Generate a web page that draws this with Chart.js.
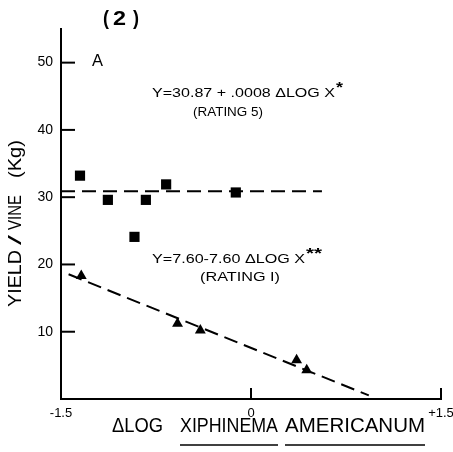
<!DOCTYPE html>
<html><head><meta charset="utf-8">
<script src="https://cdn.jsdelivr.net/npm/chart.js@4/dist/chart.umd.min.js"></script>
<style>html,body{margin:0;padding:0;background:#fff;}canvas{display:block;}</style>
</head><body>
<canvas id="c" width="453" height="452"></canvas>
<script>
// ---- data ----
const squareX = [-1.35, -1.13, -0.92, -0.83, -0.67, -0.12];
const squareY = [33.2, 29.6, 24.1, 29.6, 31.9, 30.7];
const triangleX = [-1.34, -0.58, -0.40, 0.36, 0.44];
const triangleY = [18.3, 11.2, 10.2, 5.8, 4.3];
const rating5Coef = [30.87, 0.0008];   // intercept, slope
const rating1Coef = [7.60, -7.60];
const rating5Range = [-1.5, 0.56];
const rating1Range = [-1.44, 0.93];
const xTicks = [-1.5, 0, 1.5];
const xTickLabels = ['-1.5', '0', '+1.5'];
const yTicks = [10, 20, 30, 40, 50];
const yTickLabels = ['10', '20', '30', '40', '50'];

const FONT = '"Liberation Sans", Arial, sans-serif';
const regLine = (coef, range) => range.map(x => ({x: x, y: coef[0] + coef[1] * x}));

function fitText(ctx, text, x, y, w, size, o) {
  o = o || {};
  ctx.save();
  ctx.font = (o.weight || 'normal') + ' ' + size + 'px ' + FONT;
  const m = ctx.measureText(text).width;
  ctx.translate(x, y);
  if (o.rotate) ctx.rotate(o.rotate);
  ctx.scale(w / m, o.vs || 1);
  ctx.fillStyle = '#000';
  ctx.textAlign = 'left';
  ctx.textBaseline = 'middle';
  ctx.fillText(text, 0, 0);
  ctx.restore();
}

const decor = {
  id: 'decor',
  afterDraw(chart) {
    const ctx = chart.ctx, xs = chart.scales.x, ys = chart.scales.y, a = chart.chartArea;
    ctx.save();
    ctx.strokeStyle = '#000';
    ctx.lineWidth = 2;
    // inward ticks
    yTicks.forEach(v => {
      const py = ys.getPixelForValue(v);
      ctx.beginPath(); ctx.moveTo(a.left, py); ctx.lineTo(a.left + 14, py); ctx.stroke();
    });
    xTicks.slice(1).forEach(v => {
      const px = xs.getPixelForValue(v);
      ctx.beginPath(); ctx.moveTo(px, a.bottom); ctx.lineTo(px, a.bottom - 11); ctx.stroke();
    });
    ctx.restore();
    // texts
    fitText(ctx, '(', 103, 19, 6, 20, {weight: 'bold'});
    fitText(ctx, '2', 113, 19, 13, 20, {weight: 'bold'});
    fitText(ctx, ')', 133, 19, 6, 20, {weight: 'bold'});
    fitText(ctx, 'A', 92, 62, 11, 16);
    fitText(ctx, 'Y=30.87 + .0008 \u0394LOG X', 152, 93, 183, 13);
    fitText(ctx, '*', 336, 88, 7, 14, {weight: 'bold'});
    fitText(ctx, '(RATING 5)', 193, 112, 70, 13);
    fitText(ctx, 'Y=7.60-7.60 \u0394LOG X', 152, 259, 153, 13);
    fitText(ctx, '**', 306, 254, 16, 14, {weight: 'bold'});
    fitText(ctx, '(RATING I)', 200, 277, 80, 13);
    // x title
    fitText(ctx, '\u0394LOG', 112, 426, 51, 21);
    fitText(ctx, 'XIPHINEMA', 180, 426, 98, 21);
    fitText(ctx, 'AMERICANUM', 285, 426, 140, 21);
    ctx.save();
    ctx.strokeStyle = '#000'; ctx.lineWidth = 1.5;
    ctx.beginPath(); ctx.moveTo(180, 445); ctx.lineTo(278, 445); ctx.stroke();
    ctx.beginPath(); ctx.moveTo(285, 445); ctx.lineTo(425, 445); ctx.stroke();
    ctx.restore();
    // y title (rotated)
    const r = -Math.PI / 2;
    fitText(ctx, 'YIELD', 16, 307, 57, 19, {rotate: r});
    fitText(ctx, '/', 16, 245, 10, 19, {rotate: r});
    fitText(ctx, 'VINE', 16, 230, 35, 19, {rotate: r});
    fitText(ctx, '(Kg)', 16, 178, 38, 19, {rotate: r});
  }
};

new Chart(document.getElementById('c'), {
  type: 'scatter',
  data: {
    datasets: [
      {
        data: squareX.map((x, i) => ({x: x, y: squareY[i]})),
        pointStyle: 'rect', pointRadius: 7.2, pointHoverRadius: 7.2,
        backgroundColor: '#000', borderColor: '#000', borderWidth: 0
      },
      {
        data: triangleX.map((x, i) => ({x: x, y: triangleY[i]})),
        pointStyle: 'triangle', pointRadius: 6.3, pointHoverRadius: 6.3,
        backgroundColor: '#000', borderColor: '#000', borderWidth: 0
      },
      {
        data: regLine(rating5Coef, rating5Range), showLine: true, pointRadius: 0,
        borderColor: '#000', borderWidth: 2, borderDash: [14, 7], fill: false
      },
      {
        data: regLine(rating1Coef, rating1Range), showLine: true, pointRadius: 0,
        borderColor: '#000', borderWidth: 2, borderDash: [14, 7], fill: false
      }
    ]
  },
  options: {
    responsive: false,
    animation: false,
    devicePixelRatio: 1,
    layout: {autoPadding: false, padding: {left: 0, top: 29, right: 12, bottom: 0}},
    plugins: {legend: {display: false}, tooltip: {enabled: false}, title: {display: false}},
    scales: {
      x: {
        type: 'linear', min: -1.5, max: 1.5,
        afterFit: s => { s.height = 53; s.paddingLeft = 0; s.paddingRight = 0; },
        afterBuildTicks: s => { s.ticks = xTicks.map(v => ({value: v})); },
        ticks: {
          callback: (v) => xTickLabels[xTicks.indexOf(v)],
          font: {family: FONT, size: 13}, color: '#000', padding: 7, maxRotation: 0, autoSkip: false
        },
        grid: {display: false, drawTicks: false},
        border: {display: true, color: '#000', width: 2}
      },
      y: {
        type: 'linear', min: 0, max: 55,
        afterFit: s => { s.width = 61; s.paddingTop = 0; s.paddingBottom = 0; },
        afterBuildTicks: s => { s.ticks = yTicks.map(v => ({value: v})); },
        ticks: {
          callback: (v) => yTickLabels[yTicks.indexOf(v)],
          font: {family: FONT, size: 14}, color: '#000', padding: 8, autoSkip: false
        },
        grid: {display: false, drawTicks: false},
        border: {display: true, color: '#000', width: 2}
      }
    }
  },
  plugins: [decor]
});
</script>
</body></html>
